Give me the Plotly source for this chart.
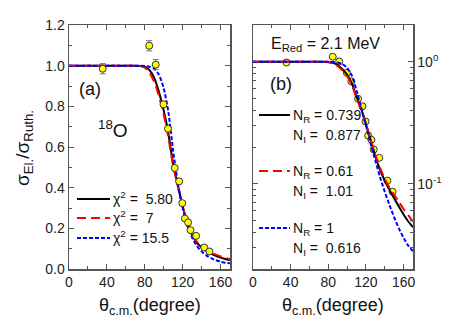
import plotly.graph_objects as go

# ---------------- data ----------------
theta_fit = [0, 60, 70, 75, 80, 85, 90, 95, 100, 105, 110, 115, 120, 125, 130,
             135, 140, 145, 150, 155, 160, 165, 170]
fit_chi580 = [1.0, 1.0, 1.0, 0.999, 0.995, 0.978, 0.94, 0.87, 0.78, 0.665, 0.515,
              0.41, 0.308, 0.228, 0.168, 0.13, 0.106, 0.089, 0.076, 0.065, 0.056,
              0.049, 0.044]
fit_chi7 = [1.0, 1.0, 1.0, 0.998, 0.99, 0.965, 0.92, 0.85, 0.76, 0.645, 0.505,
            0.405, 0.308, 0.23, 0.172, 0.135, 0.11, 0.093, 0.081, 0.071, 0.062,
            0.055, 0.049]
fit_chi155 = [1.0, 1.0, 1.0, 1.0, 0.999, 0.995, 0.985, 0.955, 0.89, 0.77, 0.58,
              0.42, 0.3, 0.212, 0.155, 0.113, 0.086, 0.067, 0.053, 0.043, 0.036,
              0.031, 0.028]

theta_exp = [35.6, 84.7, 91.6, 99.8, 104.5, 111.6, 116.3, 119.6, 122.4, 125.8,
             128.3, 134.2, 142.8, 148.3]
sigma_exp = [0.985, 1.098, 1.005, 0.81, 0.69, 0.497, 0.431, 0.324, 0.248, 0.229,
             0.191, 0.163, 0.106, 0.086]
sigma_err = [0.025, 0.025, 0.025, 0.01, 0.01, 0.01, 0.01, 0.008, 0.008, 0.008,
             0.006, 0.006, 0.005, 0.005]

legend_a = ["χ<sup>2</sup> =  5.80", "χ<sup>2</sup> =  7", "χ<sup>2</sup> = 15.5"]
legend_b = [("N<sub>R</sub> = 0.739", "N<sub>I</sub> =  0.877"),
            ("N<sub>R</sub> = 0.61", "N<sub>I</sub> =  1.01"),
            ("N<sub>R</sub> = 1", "N<sub>I</sub> =  0.616")]

x_ticks = [0, 40, 80, 120, 160]
y_ticks_a = [0.0, 0.2, 0.4, 0.6, 0.8, 1.0, 1.2]

# ---------------- styles ----------------
W, H = 460, 325
FONT = "Arial"
styles = [dict(color="#000000", width=2, dash="solid"),
          dict(color="#ff0000", width=2, dash="9px,5px"),
          dict(color="#0000ff", width=2, dash="4px,2px")]
fits = [fit_chi580, fit_chi7, fit_chi155]


def px(x):
    return x / W


def py(y):
    return 1 - y / H


fig = go.Figure()

# panel (a): lines then points
for f, s in zip(fits, styles):
    fig.add_trace(go.Scatter(x=theta_fit, y=f, mode="lines", line=dict(shape="spline", smoothing=0.6, **s),
                             xaxis="x", yaxis="y", showlegend=False, hoverinfo="skip"))
fig.add_trace(go.Scatter(x=theta_exp, y=sigma_exp, mode="markers",
                         error_y=dict(type="data", array=sigma_err, color="#777777", thickness=1, width=3),
                         marker=dict(size=7, color="#ffff00", line=dict(color="#333333", width=1)),
                         xaxis="x", yaxis="y", showlegend=False))

# panel (b): points then lines
fig.add_trace(go.Scatter(x=theta_exp, y=sigma_exp, mode="markers",
                         marker=dict(size=7, color="#ffff00", line=dict(color="#333333", width=1)),
                         xaxis="x2", yaxis="y2", showlegend=False))
for f, s in zip(fits, styles):
    fig.add_trace(go.Scatter(x=theta_fit, y=f, mode="lines", line=dict(shape="spline", smoothing=0.6, **s),
                             xaxis="x2", yaxis="y2", showlegend=False, hoverinfo="skip"))

ydom = [py(269), py(25)]
axis_common = dict(showline=True, linecolor="#555555", linewidth=1.5, mirror="ticks",
                   ticks="inside", ticklen=5, tickwidth=1, tickcolor="#555555",
                   showgrid=False, zeroline=False, automargin=False,
                   tickfont=dict(family=FONT, size=14, color="#222222"))

fig.update_layout(
    width=W, height=H, margin=dict(l=0, r=0, t=0, b=0, pad=0, autoexpand=False),
    paper_bgcolor="white", plot_bgcolor="white", showlegend=False,
    xaxis=dict(domain=[px(69), px(230)], range=[0, 170], tickvals=x_ticks,
               minor=dict(tickvals=[20, 60, 100, 140], ticks="inside", ticklen=3, tickcolor="#555555"),
               anchor="y", **axis_common),
    yaxis=dict(domain=ydom, range=[0, 1.2], tickvals=y_ticks_a, tickformat=".1f",
               minor=dict(tickvals=[0.1, 0.3, 0.5, 0.7, 0.9, 1.1], ticks="inside", ticklen=3, tickcolor="#555555"),
               anchor="x", **axis_common),
    xaxis2=dict(domain=[px(253), px(413)], range=[0, 170], tickvals=x_ticks,
                minor=dict(tickvals=[20, 60, 100, 140], ticks="inside", ticklen=3, tickcolor="#555555"),
                anchor="y2", **axis_common),
    yaxis2=dict(domain=ydom, type="log", range=[-1.699, 0.301], side="right",
                tickvals=[0.1, 1], ticktext=["10<sup>-1</sup>", "10<sup>0</sup>"],
                minor=dict(tickvals=[0.02, 0.03, 0.04, 0.05, 0.06, 0.07, 0.08, 0.09,
                                     0.2, 0.3, 0.4, 0.5, 0.6, 0.7, 0.8, 0.9, 2],
                           ticks="inside", ticklen=3, tickcolor="#555555"),
                anchor="x2", **axis_common),
)

ann = []


def text(x, y, t, size=14, xanchor="left", angle=0):
    ann.append(dict(x=px(x), y=py(y), xref="paper", yref="paper", text=t, showarrow=False,
                    xanchor=xanchor, yanchor="middle", textangle=angle,
                    font=dict(family=FONT, size=size, color="#111111")))


# axis titles
text(24, 148, "σ<sub>El.</sub>/σ<sub>Ruth.</sub>", size=19, xanchor="center", angle=-90)
text(150, 306, "θ<sub>c.m.</sub>(degree)", size=18, xanchor="center")
text(333, 306, "θ<sub>c.m.</sub>(degree)", size=18, xanchor="center")

# panel labels
text(90, 89, "(a)", size=18, xanchor="center")
text(113, 129, "<sup>18</sup>O", size=19, xanchor="center")
text(325, 44, "E<sub>Red</sub> = 2.1 MeV", size=16, xanchor="center")
text(281, 84, "(b)", size=18, xanchor="center")

shapes = []
# legend (a)
for t, s, yy in zip(legend_a, styles, [199, 218, 238]):
    shapes.append(dict(type="line", xref="paper", yref="paper", x0=px(77), x1=px(110),
                       y0=py(yy), y1=py(yy), line=s))
    text(111, yy - 1, t, size=14)

# legend (b)
for (t1, t2), s, yy in zip(legend_b, styles, [115, 171, 228]):
    shapes.append(dict(type="line", xref="paper", yref="paper", x0=px(259), x1=px(290),
                       y0=py(yy), y1=py(yy), line=s))
    text(291, yy + 1, t1, size=14)
    text(291, yy + 21, t2, size=14)

fig.update_layout(annotations=ann, shapes=shapes)
fig.write_html("out.html", config={"displayModeBar": False, "staticPlot": True},
               post_script="document.body.style.margin='0';document.body.style.padding='0';")
